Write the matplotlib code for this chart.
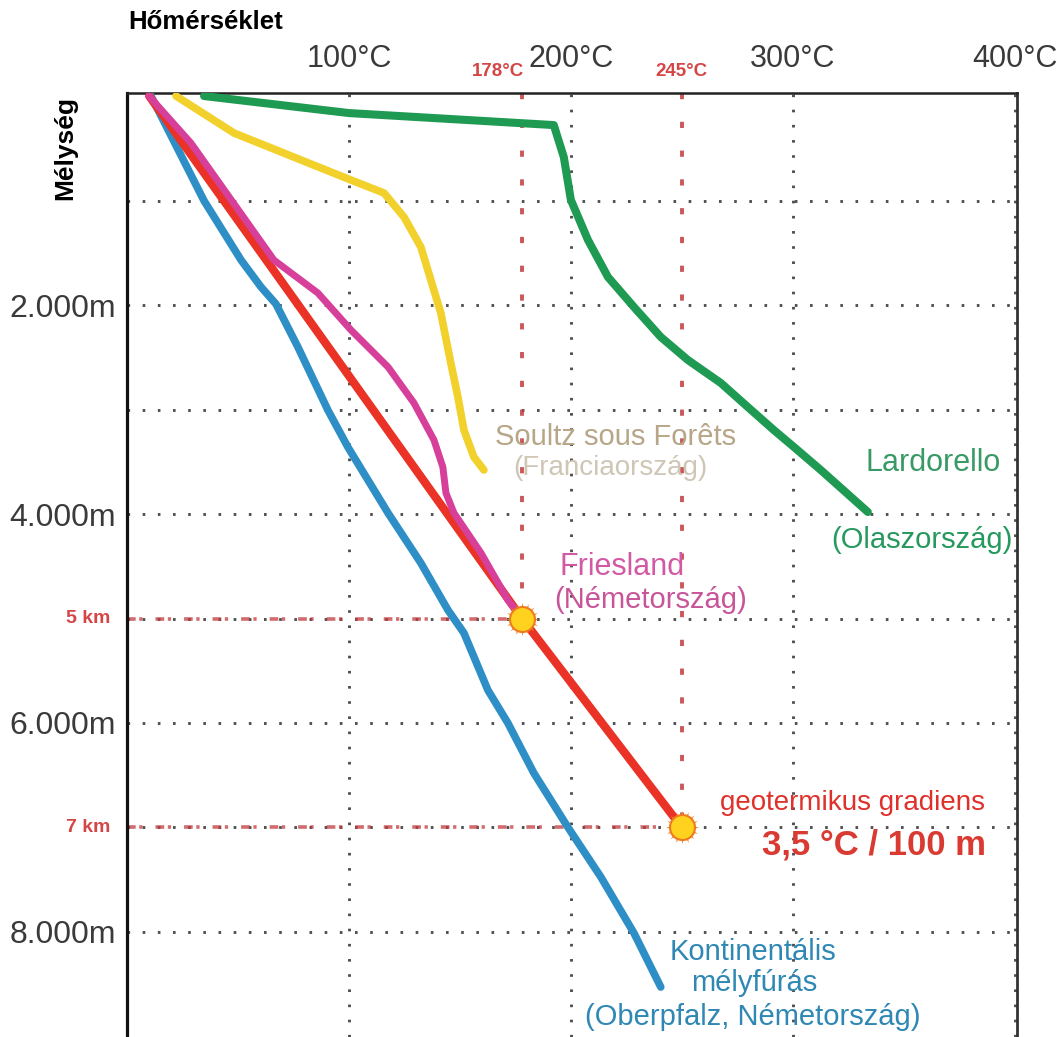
import matplotlib
matplotlib.use("Agg")
import matplotlib.pyplot as plt

plt.rcParams['font.family'] = ['Liberation Sans', 'DejaVu Sans']

# --- data (temperature in deg C, depth in m) ---
blue_temps = [10.8, 34.7, 51.4, 60.4, 67.1, 77.0, 90.5, 99.5, 117.6, 132.4, 144.6,
              151.8, 162.6, 171.6, 183.3, 198.6, 213.5, 228.4, 240.5]
blue_depths = [0, 1002, 1570, 1828, 1990, 2402, 3005, 3359, 3990, 4469, 4919,
               5139, 5685, 6000, 6479, 6996, 7474, 8010, 8527]

magenta_temps = [9.9, 28.8, 66.2, 86.0, 100.9, 117.6, 129.3, 138.3, 142.3, 143.7,
                 147.3, 159.5, 171.6, 178]
magenta_depths = [0, 450, 1570, 1885, 2239, 2593, 2938, 3292, 3550, 3799,
                  3990, 4373, 4823, 5000]

yellow_temps = [22.1, 48.2, 78.4, 100.9, 115.8, 124.8, 132.4, 136.9, 141.4, 145.9,
                149.1, 151.8, 156.3, 160.8]
yellow_depths = [0, 354, 612, 804, 928, 1158, 1445, 1761, 2077, 2555,
                 2881, 3196, 3455, 3579]

green_temps = [34.7, 100, 192.3, 196.8, 200, 207.7, 216.7, 228.4, 240.5, 252.7,
               267.6, 279.7, 291.4, 300.5, 312.6, 333.8]
green_depths = [0, 163, 278, 584, 995, 1378, 1732, 2019, 2306, 2526,
                2747, 2976, 3196, 3359, 3579, 3981]

grad_temps = [10, 178, 250]
grad_depths = [0, 5000, 7000]

mark_temps = [178, 250]
mark_depths = [5000, 7000]
mark_temp_labels = ['178°C', '245°C']
mark_depth_labels = ['5 km', '7 km']

x_ticks = [100, 200, 300, 400]
x_tick_labels = ['100°C', '200°C', '300°C', '400°C']
y_ticks = [2000, 4000, 6000, 8000]
y_tick_labels = ['2.000m', '4.000m', '6.000m', '8.000m']
y_minor = [1000, 3000, 5000, 7000]

W, H = 1058, 1037
fig = plt.figure(figsize=(W / 100, H / 100), dpi=100)
ax = fig.add_axes([127 / W, 0, (1017 - 127) / W, (1037 - 93) / H])

ax.set_xlim(0, 401)
ax.set_ylim(9005, -29)

# axes frame
ax.spines['left'].set_linewidth(2.3)
ax.spines['left'].set_color('#111111')
ax.spines['top'].set_linewidth(1.8)
ax.spines['top'].set_color('#222222')
ax.spines['right'].set_linewidth(2.0)
ax.spines['right'].set_color('#333333')
ax.spines['bottom'].set_visible(False)

ax.xaxis.tick_top()
ax.set_xticks(x_ticks)
ax.set_xticklabels(x_tick_labels, fontsize=22, color='#3a3a3a')
ax.set_yticks(y_ticks)
ax.set_yticklabels(y_tick_labels, fontsize=23, color='#3a3a3a')
ax.set_yticks(y_minor, minor=True)
ax.tick_params(axis='x', length=0, pad=14)
ax.tick_params(axis='y', which='both', length=0, pad=8)

grid_style = dict(color='#505050', linewidth=2.1, linestyle=(0, (0.9, 4.3)))
ax.grid(True, which='major', **grid_style)
ax.grid(True, which='minor', axis='y', **grid_style)
ax.set_axisbelow(True)

# red reference lines to the two marker points
red_dash = '#c23a3e'
ax.vlines(mark_temps, -29, mark_depths, color=red_dash, linewidth=2.8,
          linestyles=[(0, (1.6, 5.8))], alpha=0.85, zorder=2)
ax.hlines(mark_depths, 0, mark_temps, color=red_dash, linewidth=2.6,
          linestyles=[(0, (2.4, 1.0, 0.9, 3.6))], alpha=0.75, zorder=2)

# curves
line_kw = dict(solid_capstyle='round', solid_joinstyle='round')
ax.plot(green_temps, green_depths, color='#1f9a52', linewidth=5.8, zorder=3, **line_kw)
ax.plot(yellow_temps, yellow_depths, color='#f2d12c', linewidth=5.5, zorder=3, **line_kw)
ax.plot(blue_temps, blue_depths, color='#2e8fc6', linewidth=5.5, zorder=3, **line_kw)
ax.plot(grad_temps, grad_depths, color='#ea3326', linewidth=6, zorder=4, **line_kw)
ax.plot(magenta_temps, magenta_depths, color='#d6409a', linewidth=5, zorder=5, **line_kw)

# sun markers
ax.plot(mark_temps, mark_depths, linestyle='none', marker=(16, 1, 0), markersize=24,
        color='#f07a1e', markeredgewidth=0, zorder=6)
ax.plot(mark_temps, mark_depths, linestyle='none', marker='o', markersize=18,
        markerfacecolor='#ffd21f', markeredgecolor='#f07a1e', markeredgewidth=1.5, zorder=7)

# labels of the reference lines
for t, lab in zip(mark_temps, mark_temp_labels):
    ax.text(t - 11 if t < 200 else t, -235, lab, ha='center', va='center', fontsize=13.5,
            fontweight='bold', color='#d64545', clip_on=False)
for d, lab in zip(mark_depths, mark_depth_labels):
    ax.text(-7.5, d, lab, ha='right', va='center', fontsize=14,
            fontweight='bold', color='#d64545', clip_on=False)

# curve annotations
ax.text(220, 3263, 'Soultz sous Forêts', ha='center', va='center', fontsize=21, color='#b7a688')
ax.text(218, 3560, '(Franciaország)', ha='center', va='center', fontsize=20, color='#cfc6b6')
ax.text(363, 3512, 'Lardorello', ha='center', va='center', fontsize=22, color='#3a9a66')
ax.text(358, 4249, '(Olaszország)', ha='center', va='center', fontsize=21, color='#25995e')
ax.text(223, 4507, 'Friesland', ha='center', va='center', fontsize=22, color='#d25aa5')
ax.text(236, 4823, '(Németország)', ha='center', va='center', fontsize=21, color='#c8559a')
ax.text(327, 6766, 'geotermikus gradiens', ha='center', va='center', fontsize=20, color='#e0302a')
ax.text(336.5, 7168, '3,5 °C / 100 m', ha='center', va='center', fontsize=25,
        fontweight='bold', color='#d93a32')
ax.text(282, 8192, 'Kontinentális', ha='center', va='center', fontsize=21, color='#2f88b4')
ax.text(282.4, 8489, 'mélyfúrás', ha='center', va='center', fontsize=21, color='#2f88b4')
ax.text(282, 8814, '(Oberpfalz, Németország)', ha='center', va='center', fontsize=21, color='#2f88b4')

# axis titles
fig.text(128 / W, 1 - 22 / H, 'Hőmérséklet', ha='left', va='center', fontsize=18.5,
         fontweight='bold', color='black')
fig.text(65 / W, 1 - 148 / H, 'Mélység', ha='center', va='center', rotation=90,
         fontsize=19, fontweight='bold', color='black')

fig.savefig('out.png', dpi=100)
